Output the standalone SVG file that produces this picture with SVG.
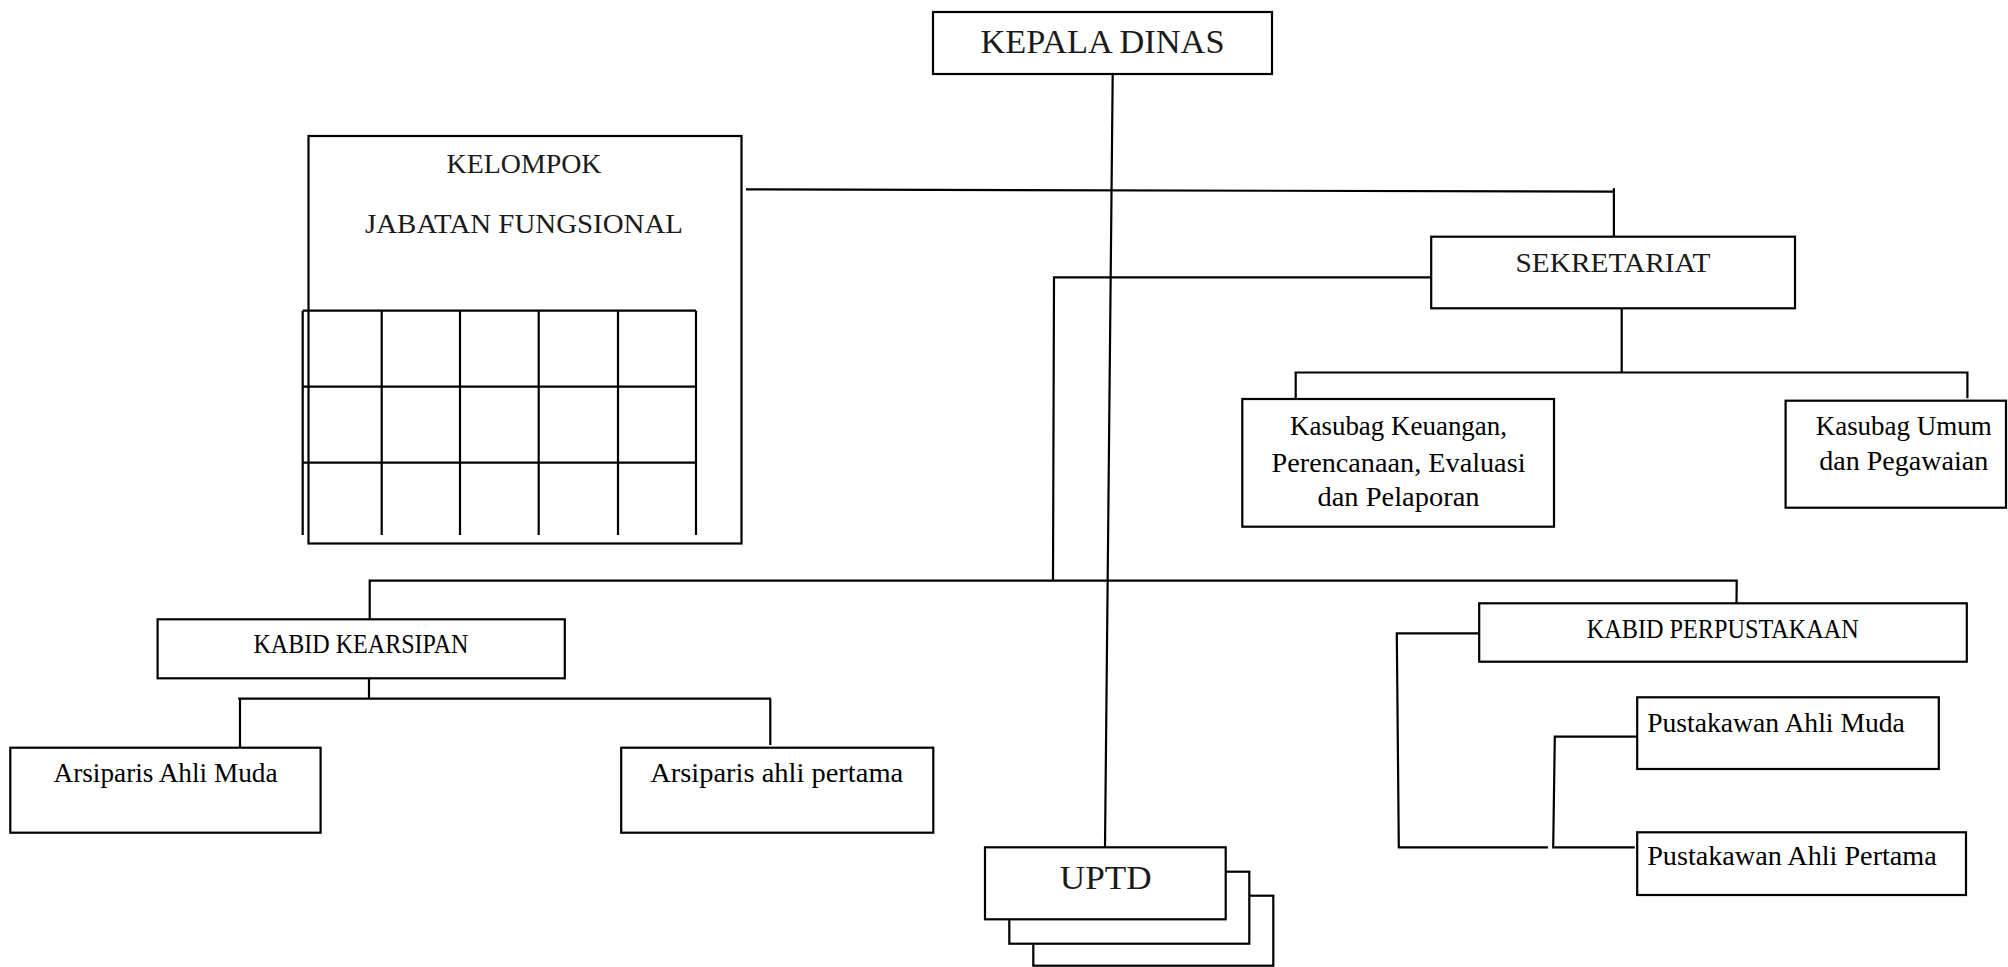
<svg xmlns="http://www.w3.org/2000/svg" width="2008" height="967" viewBox="0 0 2008 967">
<style>
.box{fill:#fff;stroke:#000;stroke-width:2.2}
.ln{fill:none;stroke:#000;stroke-width:2.2}
.t1{font-family:"Liberation Serif",serif;fill:#1a1a1a;text-anchor:middle}
.t2{font-family:"Liberation Serif",serif;fill:#000;text-anchor:middle;font-size:27.5px}
.t2s{font-family:"Liberation Serif",serif;fill:#000;font-size:27.5px}
</style>
<rect width="2008" height="967" fill="#fff"/>
<g id="connectors">
<path class="ln" d="M1112.7 74 L1105 847"/>
<path class="ln" d="M746 189.3 L1613.9 191.7 M1613.9 188.3 L1613.9 236.7"/>
<path class="ln" d="M1431 277.3 L1054 277.3 L1053 580.7"/>
<path class="ln" d="M369.7 619.3 L369.7 580.7 L1736.7 580.7 L1736.5 603.3"/>
<path class="ln" d="M1621.7 308.3 L1621.7 372.5 M1295.7 399 L1295.7 372.5 L1967.4 372.5 L1967.4 398.3"/>
<path class="ln" d="M369 678.3 L369 698.7 M240 747.3 L240 698.7 M238.2 698.7 L770.9 698.7 M770.3 698.7 L770.3 745"/>
<path class="ln" d="M1479 633.3 L1396.8 633.3 L1398.8 847.3 L1548 847.3"/>
<path class="ln" d="M1637 736.7 L1554.8 736.7 L1553.2 847.3 L1634.8 847.3"/>
</g>
<g id="kepala-dinas">
<rect class="box" x="933" y="12" width="339" height="62"/>
<text class="t1" x="1102.5" y="53" font-size="33" textLength="244" lengthAdjust="spacingAndGlyphs">KEPALA DINAS</text>
</g>
<g id="kelompok-jabatan-fungsional">
<rect class="box" x="308.5" y="136" width="433" height="407.5"/>
<text class="t1" x="524" y="172.7" font-size="28" textLength="155" lengthAdjust="spacingAndGlyphs">KELOMPOK</text>
<text class="t1" x="524" y="232.7" font-size="28" textLength="318" lengthAdjust="spacingAndGlyphs">JABATAN FUNGSIONAL</text>
<path class="ln" d="M302.7 310.7 L696 310.7 M302.7 386.7 L696 386.7 M302.7 462.7 L696 462.7 M302.7 310.7 L302.7 535 M381.7 310.7 L381.7 535 M460 310.7 L460 535 M538.7 310.7 L538.7 535 M618 310.7 L618 535 M696 310.7 L696 535"/>
</g>
<g id="sekretariat">
<rect class="box" x="1431.2" y="236.7" width="363.8" height="71.6"/>
<text class="t1" x="1613" y="271.7" font-size="28" textLength="195" lengthAdjust="spacingAndGlyphs">SEKRETARIAT</text>
</g>
<g id="kasubag-keuangan">
<rect class="box" x="1242.3" y="399" width="311.7" height="127.7"/>
<text class="t2" x="1398.5" y="435" textLength="217" lengthAdjust="spacingAndGlyphs">Kasubag Keuangan,</text>
<text class="t2" x="1398.5" y="471.7" textLength="254" lengthAdjust="spacingAndGlyphs">Perencanaan, Evaluasi</text>
<text class="t2" x="1398.5" y="506" textLength="162" lengthAdjust="spacingAndGlyphs">dan Pelaporan</text>
</g>
<g id="kasubag-umum">
<rect class="box" x="1785.6" y="400.7" width="220.4" height="107"/>
<text class="t2" x="1903.7" y="435" textLength="176" lengthAdjust="spacingAndGlyphs">Kasubag Umum</text>
<text class="t2" x="1903.7" y="470" textLength="169" lengthAdjust="spacingAndGlyphs">dan Pegawaian</text>
</g>
<g id="kabid-kearsipan">
<rect class="box" x="157.6" y="619.3" width="407.2" height="59"/>
<text class="t2" x="361" y="653.3" textLength="215" lengthAdjust="spacingAndGlyphs">KABID KEARSIPAN</text>
</g>
<g id="arsiparis-ahli-muda">
<rect class="box" x="10.3" y="747.7" width="310.3" height="85"/>
<text class="t2" x="165.5" y="781.7" textLength="224" lengthAdjust="spacingAndGlyphs">Arsiparis Ahli Muda</text>
</g>
<g id="arsiparis-ahli-pertama">
<rect class="box" x="621.2" y="747.7" width="312.1" height="85"/>
<text class="t2" x="776.7" y="781.7" textLength="253" lengthAdjust="spacingAndGlyphs">Arsiparis ahli pertama</text>
</g>
<g id="uptd">
<rect class="box" x="1033.3" y="895.7" width="240" height="70"/>
<rect class="box" x="1009.3" y="871.7" width="240" height="72"/>
<rect class="box" x="985" y="847.3" width="240.7" height="72"/>
<text class="t1" x="1105.8" y="889.3" font-size="34" textLength="92" lengthAdjust="spacingAndGlyphs">UPTD</text>
</g>
<g id="kabid-perpustakaan">
<rect class="box" x="1479.2" y="603.3" width="487.6" height="58.4"/>
<text class="t2" x="1722.8" y="638.3" textLength="272" lengthAdjust="spacingAndGlyphs">KABID PERPUSTAKAAN</text>
</g>
<g id="pustakawan-ahli-muda">
<rect class="box" x="1637.2" y="697.3" width="301.6" height="71.7"/>
<text class="t2s" x="1647.2" y="731.7" textLength="257.6" lengthAdjust="spacingAndGlyphs">Pustakawan Ahli Muda</text>
</g>
<g id="pustakawan-ahli-pertama">
<rect class="box" x="1637.2" y="832.3" width="328.8" height="62.7"/>
<text class="t2s" x="1647.2" y="865" textLength="289.6" lengthAdjust="spacingAndGlyphs">Pustakawan Ahli Pertama</text>
</g>
</svg>
